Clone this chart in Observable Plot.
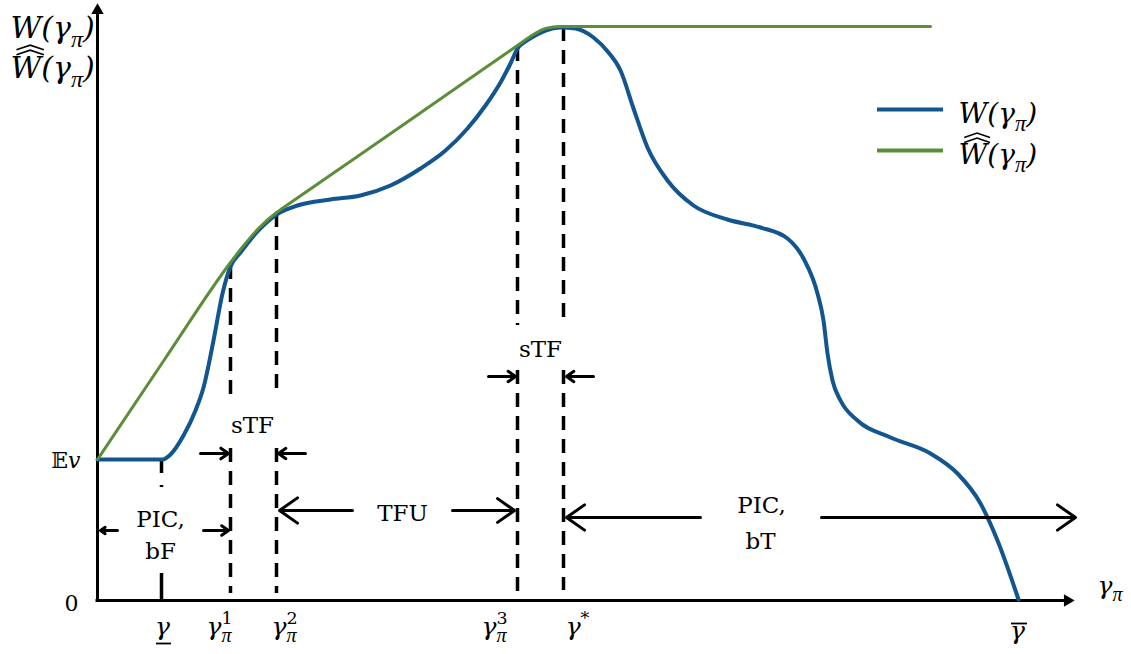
<!DOCTYPE html>
<html><head><meta charset="utf-8">
<script src="https://cdn.jsdelivr.net/npm/d3@7"></script>
<script src="https://cdn.jsdelivr.net/npm/@observablehq/plot@0.6"></script>
<style>body{margin:0;background:#fff} svg{display:block;background:#fff}</style>
</head><body><div id="chart"></div>
<script>
// W(γπ): welfare curve (x = γπ units, y = welfare units; origin at the axes' corner)
const welfare = [[0,141],[65,141],[73,146],[86,165],[98,190],[106,213],[116,260],[125,307],[133,334],[143,348],[160,369],[179,386],[200,395],[233,401],[263,405],[293,415],[323,432],[348,450],[370,472],[388,495],[403,518],[413,537],[420,552],[428,559],[436,564],[448,570],[463,573],[478,572],[496,563],[511,548],[523,530],[536,492],[550,453],[570,420],[596,395],[630,381],[663,373],[690,362],[706,342],[720,307],[726,280],[730,247],[735,220],[743,200],[760,180],[793,163],[833,147],[860,127],[883,97],[900,60],[921,1]];
// Ŵ̂(γπ): concave envelope
const envelope = [[0,141],[67,241],[133,338],[143,351],[160,371],[179,388],[185,392.2],[260,444],[340,499.5],[412,549.4],[420,555],[436,566],[448,572],[463,574],[480,574],[833,574]];
// key thresholds
const gammaLow = 64, gamma1 = 133, gamma2 = 179, gamma3 = 420, gammaStar = 466;
// dashed guide segments
const guides = [
  {x: gamma1, y1: 335, y2: 203}, {x: gamma1, y1: 152, y2: 7},
  {x: gamma2, y1: 387, y2: 203}, {x: gamma2, y1: 152, y2: 7},
  {x: gamma3, y1: 553, y2: 275}, {x: gamma3, y1: 230, y2: 3},
  {x: gammaStar, y1: 573, y2: 275}, {x: gammaStar, y1: 230, y2: 10}
];
const lowGuide = [{x: gammaLow, y1: 142, y2: 127}, {x: gammaLow, y1: 115, y2: 113}, {x: gammaLow, y1: 27, y2: 0}];
// region arrows
const spans = [
  {x1: 103, x2: 131, y: 147}, {x1: 208, x2: 181, y: 147},
  {x1: 20, x2: 3, y: 70}, {x1: 106, x2: 131, y: 70},
  {x1: 255, x2: 182, y: 90}, {x1: 355, x2: 417, y: 90},
  {x1: 391, x2: 418, y: 224}, {x1: 496, x2: 469, y: 224},
  {x1: 603, x2: 469, y: 83}, {x1: 724, x2: 978, y: 83}
];
const regionLabels = [
  {x: 155, y: 175, t: "sTF"}, {x: 443, y: 251, t: "sTF"},
  {x: 63, y: 81, t: "PIC,"}, {x: 63, y: 49, t: "bF"},
  {x: 305, y: 87, t: "TFU"},
  {x: 664, y: 95, t: "PIC,"}, {x: 663, y: 59, t: "bT"}
];
const tickLabels = [
  {x: 65, y: -26, t: "U{γ}"}, {x: 122, y: -26, t: "γ_{π}^{1}"}, {x: 187, y: -26, t: "γ_{π}^{2}"},
  {x: 397, y: -26, t: "γ_{π}^{3}"}, {x: 480, y: -26, t: "γ^{*}"}, {x: 920, y: -30, t: "O{γ}"}
];
const axisLabels = [
  {x: -87, y: 572, t: "W(γ_{π})"}, {x: -87, y: 532, t: "H{W}(γ_{π})"}
];
const xAxisLabel = [{x: 1000, y: 15, t: "γ_{π}"}];
const levelLabels = [{x: -17, y: 140, t: "𝔼I{v}"}, {x: -19, y: -3, t: "0"}];
const legendItems = [
  {name: "W(γ_{π})", color: "#12558f", y: 491},
  {name: "H{W}(γ_{π})", color: "#5b8d3a", y: 450}
];
const blue = legendItems[0].color, green = legendItems[1].color;
const serif = "DejaVu Serif";

const chart = Plot.plot({
  width: 1131, height: 654,
  marginTop: 0, marginRight: 0, marginBottom: 0, marginLeft: 0,
  x: {domain: [-97, 1034], axis: null},
  y: {domain: [-54, 600], axis: null},
  style: {fontFamily: serif, background: "#fff"},
  marks: [
    // axes
    Plot.ruleX([0], {y1: 0, y2: 588, stroke: "black", strokeWidth: 3}),
    Plot.ruleY([0], {x1: -1.5, x2: 968, stroke: "black", strokeWidth: 3}),
    Plot.dot([{x: 0, y: 590}], {x: "x", y: "y", symbol: "triangle", r: 4.6, fill: "black"}),
    Plot.dot([{x: 970, y: 0}], {x: "x", y: "y", symbol: "triangle", r: 4.6, fill: "black", rotate: 90}),
    // guides
    Plot.ruleX(guides, {x: "x", y1: "y1", y2: "y2", stroke: "black", strokeWidth: 3.5, strokeDasharray: "14,9"}),
    Plot.ruleX(lowGuide, {x: "x", y1: "y1", y2: "y2", stroke: "black", strokeWidth: 3.5}),
    // curves
    Plot.line(welfare, {x: d => d[0], y: d => d[1], stroke: blue, strokeWidth: 4, curve: "monotone-x"}),
    Plot.line(envelope, {x: d => d[0], y: d => d[1], stroke: green, strokeWidth: 3, curve: "monotone-x"}),
    // arrows
    Plot.arrow(spans, {x1: "x1", x2: "x2", y1: "y", y2: "y", stroke: "black", strokeWidth: 3, headLength: 11, headAngle: 70}),
    // texts
    Plot.text(regionLabels, {x: "x", y: "y", text: "t", fontSize: 23, fill: "black"}),
    Plot.text(tickLabels, {x: "x", y: "y", text: "t", fontSize: 25, fontStyle: "italic", fill: "black"}),
    Plot.text(xAxisLabel, {x: "x", y: "y", text: "t", fontSize: 25, fontStyle: "italic", textAnchor: "start", fill: "black"}),
    Plot.text(axisLabels, {x: "x", y: "y", text: "t", fontSize: 30, fontStyle: "italic", textAnchor: "start", fill: "black"}),
    Plot.text(levelLabels, {x: "x", y: "y", text: "t", fontSize: 22, textAnchor: "end", fill: "black"}),
    // legend
    Plot.ruleY(legendItems, {y: "y", x1: 780, x2: 846, stroke: "color", strokeWidth: 4}),
    Plot.text(legendItems, {x: 861, y: d => d.y - 5, text: "name", fontSize: 28, fontStyle: "italic", textAnchor: "start", fill: "black"})
  ]
});
document.getElementById("chart").appendChild(chart);

// turn _{..} ^{..} U{..} O{..} I{..} H{..} markup into real tspans (+ accent strokes)
const NS = "http://www.w3.org/2000/svg";
d3.select(chart).selectAll("text").each(function() {
  const t = this.textContent;
  if (!/(_|\^|U|O|I|H)\{/.test(t)) return;
  const fs = parseFloat(getComputedStyle(this).fontSize);
  const parts = t.split(/(_\{[^}]*\}|\^\{[^}]*\}|[UOIH]\{[^}]*\})/).filter(s => s.length);
  this.textContent = "";
  let shift = 0, prevSub = null;
  const decor = [];
  for (const p of parts) {
    const ts = document.createElementNS(NS, "tspan");
    let target = 0, small = false, stack = false, kind = null;
    if (p.startsWith("_{")) { target = fs * 0.28; small = true; ts.textContent = p.slice(2, -1); }
    else if (p.startsWith("^{")) { target = -fs * 0.42; small = true; stack = !!prevSub; ts.textContent = p.slice(2, -1); }
    else if (/^[UOIH]\{/.test(p)) { kind = p[0]; ts.textContent = p.slice(2, -1); if (kind === "I") ts.setAttribute("font-style", "italic"); }
    else ts.textContent = p;
    if (target - shift !== 0) ts.setAttribute("dy", target - shift);
    shift = target;
    if (small) ts.setAttribute("font-size", fs * 0.7);
    if (/^\d+$/.test(ts.textContent)) ts.setAttribute("font-style", "normal");
    if (ts.textContent === "π") {
      ts.setAttribute("font-family", "Liberation Serif");
      ts.setAttribute("font-style", "italic");
      ts.setAttribute("font-size", fs * 0.8);
    }
    this.appendChild(ts);
    if (stack) ts.setAttribute("dx", -prevSub.getComputedTextLength());
    prevSub = p.startsWith("_{") ? ts : null;
    if (kind === "U" || kind === "O" || kind === "H") decor.push([kind, ts]);
  }
  const g = this.parentNode;
  const tr = this.getAttribute("transform") || "";
  const base = fs * 0.32; // baseline (Plot centres text with y = 0.32em)
  for (const [kind, ts] of decor) {
    const b = ts.getBBox();
    const p = document.createElementNS(NS, "path");
    let d;
    if (kind === "U") {
      const y = base + fs * 0.36;
      d = `M${b.x + 1},${y}H${b.x + b.width + 1}`;
    } else if (kind === "O") {
      const y = base - fs * 0.6;
      d = `M${b.x + 1},${y}H${b.x + b.width + 2}`;
    } else {
      const top = base - fs * 0.73;
      const x0 = b.x + b.width * 0.12 + 2, x1 = b.x + b.width * 0.95 + 2, xc = (x0 + x1) / 2;
      d = `M${x0},${top - 1.5}L${xc},${top - 6}L${x1},${top - 1.5}` +
          `M${x0},${top - 6.5}L${xc},${top - 11}L${x1},${top - 6.5}`;
    }
    p.setAttribute("d", d);
    p.setAttribute("fill", "none");
    p.setAttribute("stroke", "black");
    p.setAttribute("stroke-width", kind === "H" ? 1.6 : 1.8);
    if (tr) p.setAttribute("transform", tr);
    g.appendChild(p);
  }
});
</script></body></html>
